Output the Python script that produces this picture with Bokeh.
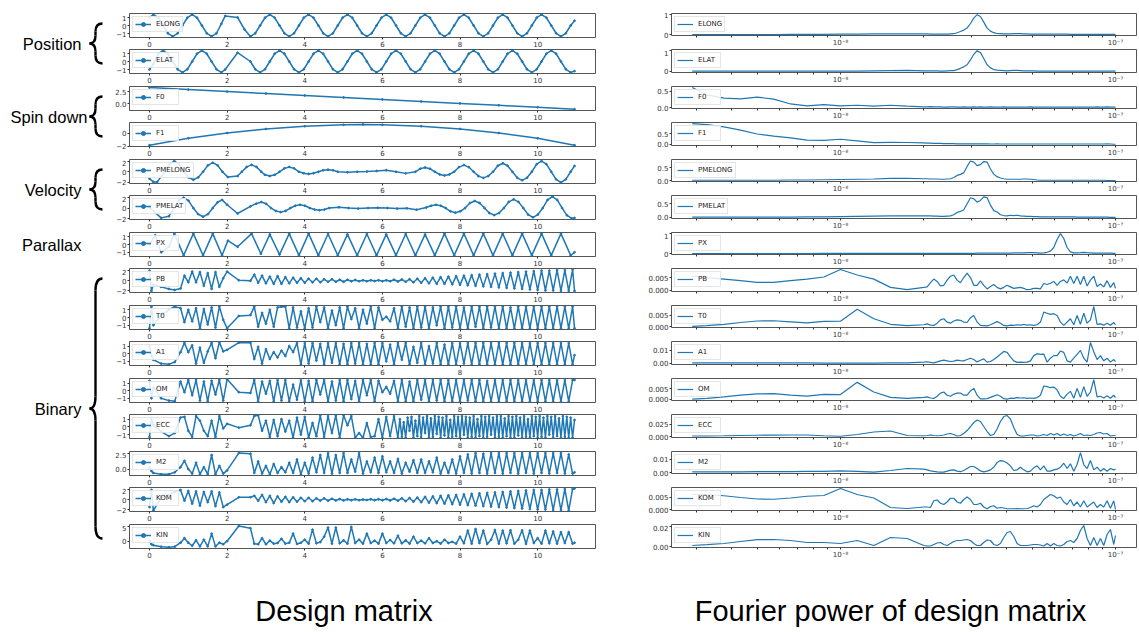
from bokeh.plotting import figure
from bokeh.layouts import column, row
from bokeh.models import Range1d, FixedTicker, CustomJSTickFormatter
from bokeh.core.properties import value
from bokeh.embed import file_html
from bokeh.resources import INLINE

# ======================= DATA =======================
PARAMS = ["ELONG", "ELAT", "F0", "F1", "PMELONG", "PMELAT", "PX",
          "PB", "T0", "A1", "OM", "ECC", "M2", "KOM", "KIN"]
GROUPS = [("Position", 0, 1, True), ("Spin down", 2, 3, True),
          ("Velocity", 4, 5, True), ("Parallax", 6, 6, False),
          ("Binary", 7, 14, True)]
TITLES = ["Design matrix", "Fourier power of design matrix"]
LEFT_XTICKS = [0, 2, 4, 6, 8, 10]

# --- design matrix columns (time in years) ---
elong_pts = [(0.0,1.0),(0.1,1.37),(0.225,0.97),(0.35,0.0),(0.475,-0.97),(0.6,-1.37),(0.725,-0.97),(0.85,0.0),(0.975,0.97),
 (1.1,1.37),(1.225,0.97),(1.35,0.0),(1.475,-0.97),(1.6,-1.37),(1.725,-0.97),(1.85,0.2),(1.95,1.2),(2.27,1.0),(2.45,-0.5),(2.6,-1.37),(2.725,-0.97),(2.85,0.0),(2.975,0.97),
 (3.1,1.37),(3.225,0.97),(3.35,0.0),(3.475,-0.97),(3.6,-1.37),(3.725,-0.97),(3.85,0.0),(3.975,0.97),
 (4.1,1.37),(4.225,0.97),(4.35,0.0),(4.475,-0.97),(4.6,-1.37),(4.725,-0.97),(4.85,0.0),(4.975,0.97),
 (5.1,1.37),(5.225,0.97),(5.35,0.0),(5.475,-0.97),(5.6,-1.37),(5.725,-0.97),(5.85,0.0),(5.975,0.97),
 (6.1,1.37),(6.225,0.97),(6.35,0.0),(6.475,-0.97),(6.6,-1.37),(6.725,-0.97),(6.85,0.0),(6.975,0.97),
 (7.1,1.37),(7.225,0.97),(7.35,0.0),(7.475,-0.97),(7.6,-1.37),(7.725,-0.97),(7.85,0.0),(7.975,0.97),
 (8.1,1.37),(8.225,0.97),(8.35,0.0),(8.475,-0.97),(8.6,-1.37),(8.725,-0.97),(8.85,0.0),(8.975,0.97),
 (9.1,1.37),(9.225,0.97),(9.35,0.0),(9.475,-0.97),(9.6,-1.37),(9.725,-0.97),(9.85,0.0),(9.975,0.97),
 (10.1,1.37),(10.225,0.97),(10.35,0.0),(10.475,-0.97),(10.6,-1.37),(10.725,-0.97),(10.85,0.0),(10.95,0.6)]

elat_pts = [(0.0,-1.0),(0.1,-0.3),(0.225,0.97),(0.35,1.37),(0.475,0.97),(0.6,0.0),(0.725,-0.97),(0.85,-1.37),(0.975,-0.97),
 (1.1,0.0),(1.225,0.97),(1.35,1.37),(1.475,0.97),(1.6,0.0),(1.725,-0.97),(1.85,-1.37),(1.95,-1.0),(2.27,1.1),(2.6,0.0),(2.725,-0.97),(2.85,-1.37),(2.975,-0.97),
 (3.1,0.0),(3.225,0.97),(3.35,1.37),(3.475,0.97),(3.6,0.0),(3.725,-0.97),(3.85,-1.37),(3.975,-0.97),
 (4.1,0.0),(4.225,0.97),(4.35,1.37),(4.475,0.97),(4.6,0.0),(4.725,-0.97),(4.85,-1.37),(4.975,-0.97),
 (5.1,0.0),(5.225,0.97),(5.35,1.37),(5.475,0.97),(5.6,0.0),(5.725,-0.97),(5.85,-1.37),(5.975,-0.97),
 (6.1,0.0),(6.225,0.97),(6.35,1.37),(6.475,0.97),(6.6,0.0),(6.725,-0.97),(6.85,-1.37),(6.975,-0.97),
 (7.1,0.0),(7.225,0.97),(7.35,1.37),(7.475,0.97),(7.6,0.0),(7.725,-0.97),(7.85,-1.37),(7.975,-0.97),
 (8.1,0.0),(8.225,0.97),(8.35,1.37),(8.475,0.97),(8.6,0.0),(8.725,-0.97),(8.85,-1.37),(8.975,-0.97),
 (9.1,0.0),(9.225,0.97),(9.35,1.37),(9.475,0.97),(9.6,0.0),(9.725,-0.97),(9.85,-1.37),(9.975,-0.97),
 (10.1,0.0),(10.225,0.97),(10.35,1.37),(10.475,0.97),(10.6,0.0),(10.725,-0.97),(10.85,-1.37),(10.95,-1.2)]

f0_pts = [(0,3.3),(1,2.9),(2,2.5),(3,2.1),(4,1.7),(5,1.3),(6,0.9),(7,0.5),(8,0.1),(9,-0.3),(10,-0.7),(10.95,-1.08)]
f1_pts = [(0,-1.85),(1,-0.8),(2,0.0),(3,0.62),(4,1.03),(5,1.25),(5.5,1.3),(6,1.25),(7,1.03),(8,0.62),(9,0.0),(10,-0.8),(10.95,-1.85)]

pmelong_pts = [(0,-1.3),(0.1,-1.9),(0.2,-1.9),(0.39,0),(0.515,1.42),(0.64,2.0),(0.765,1.42),(0.89,0),(1.005,-1.06),(1.13,-1.5),
 (1.255,-1.06),(1.38,0),(1.505,1.2),(1.63,1.7),(1.755,1.2),(1.88,0),(2.02,-1.0),(2.27,-0.8),(2.38,0),(2.505,0.92),(2.63,1.3),
 (2.755,0.92),(2.88,0),(2.975,-0.57),(3.1,-0.8),(3.225,-0.57),(3.35,0),(3.475,0.64),(3.6,0.9),(3.725,0.64),(3.85,0),(3.975,-0.28),
 (4.1,-0.4),(4.225,-0.28),(4.35,0),(4.475,0.28),(4.6,0.4),(4.725,0.28),(4.85,0),(5.1,-0.1),(5.35,0),(5.6,0.05),(5.85,0.15),
 (6.1,0.3),(6.35,0),(6.6,-0.3),(6.85,0),(6.975,0.57),(7.1,0.8),(7.225,0.57),(7.35,0),(7.475,-0.5),(7.6,-0.7),(7.725,-0.5),
 (7.85,0),(7.975,0.88),(8.1,1.25),(8.225,0.88),(8.35,0),(8.475,-0.82),(8.6,-1.15),(8.725,-0.82),(8.85,0),(8.975,1.13),(9.1,1.6),
 (9.225,1.13),(9.35,0),(9.475,-1.13),(9.6,-1.6),(9.725,-1.13),(9.85,0),(9.975,1.42),(10.1,2.0),(10.225,1.42),(10.35,0),
 (10.475,-1.42),(10.6,-2.0),(10.725,-1.42),(10.85,0),(10.95,1.1)]

pmelat_pts = [(0,0.1),(0.3,-1.8),(0.5,-1.5),(0.63,0.0),(0.755,1.35),(0.88,1.9),(1.005,1.35),(1.13,0),(1.255,-1.13),(1.38,-1.6),
 (1.505,-1.13),(1.63,0),(1.755,1.06),(1.87,1.5),(2.0,0.6),(2.27,-1.0),(2.6,0.3),(2.75,0.8),(2.88,1.1),(3.005,0.78),(3.13,0),
 (3.255,-0.53),(3.38,-0.75),(3.505,-0.53),(3.63,0),(3.755,0.42),(3.88,0.6),(4.005,0.42),(4.13,0),(4.255,-0.28),(4.38,-0.4),
 (4.505,-0.28),(4.63,0),(4.88,0.15),(5.13,0),(5.38,-0.1),(5.63,0),(5.88,0.05),(6.13,0),(6.38,-0.1),(6.63,-0.05),(6.88,-0.3),
 (7.13,0.1),(7.255,0.42),(7.38,0.6),(7.505,0.42),(7.63,0),(7.755,-0.6),(7.88,-0.85),(8.005,-0.6),(8.13,0),(8.255,0.92),(8.38,1.3),
 (8.505,0.92),(8.63,0),(8.755,-0.92),(8.88,-1.3),(9.005,-0.92),(9.13,0),(9.255,1.13),(9.38,1.6),(9.505,1.13),(9.63,0),(9.755,-1.2),
 (9.88,-1.7),(10.005,-1.2),(10.13,0),(10.255,1.48),(10.38,2.1),(10.505,1.48),(10.63,0),(10.755,-1.34),(10.88,-1.9),(10.95,-1.8)]

px_pts = [(0,0.0),(0.15,1.2),(0.3,-1.0),(0.5,-0.3),(0.64,1.4),(0.88,-1.4),(1.13,1.4),(1.38,-1.4),(1.63,1.4),(1.87,-1.4),
 (2.02,0.5),(2.27,-0.3),(2.63,1.4),(2.87,-1.2),(3.1,1.3),(3.35,-1.3),(3.6,1.4),(3.85,-1.4),(4.1,1.4),(4.35,-1.4),(4.6,1.35),
 (4.85,-1.4),(5.1,1.3),(5.35,-1.4),(5.6,1.35),(5.85,-1.4),(6.1,1.3),(6.35,-1.4),(6.6,1.35),(6.85,-1.4),(7.1,1.3),(7.35,-1.4),
 (7.6,1.4),(7.85,-1.4),(8.1,1.4),(8.35,-1.4),(8.6,1.4),(8.85,-1.4),(9.1,1.4),(9.35,-1.4),(9.6,1.4),(9.85,-1.4),(10.1,1.4),
 (10.35,-1.4),(10.6,1.4),(10.85,-1.4),(10.95,-1.0)]

t_bin = [0.0, 0.05, 0.1, 0.3, 0.5, 0.65, 0.8, 0.9, 1.0, 1.1, 1.2, 1.3, 1.4, 1.5, 1.6, 1.7, 1.8, 1.9, 2.0, 2.3, 2.6,
 2.7, 2.8, 2.9,
 3.0, 3.1, 3.2, 3.3, 3.4, 3.5, 3.6, 3.7, 3.8, 3.9,
 4.0, 4.1, 4.2, 4.3, 4.4, 4.5, 4.6, 4.7, 4.8, 4.9,
 5.0, 5.1, 5.2, 5.3, 5.4, 5.5, 5.6, 5.7, 5.8, 5.9,
 6.0, 6.1, 6.2, 6.3, 6.4, 6.5, 6.6, 6.7, 6.8, 6.9,
 7.0, 7.1, 7.2, 7.3, 7.4, 7.5, 7.6, 7.7, 7.8, 7.9,
 8.0, 8.1, 8.2, 8.3, 8.4, 8.5, 8.6, 8.7, 8.8, 8.9,
 9.0, 9.1, 9.2, 9.3, 9.4, 9.5, 9.6, 9.7, 9.8, 9.9,
 10.0, 10.1, 10.2, 10.3, 10.4, 10.5, 10.6, 10.7, 10.8, 10.9,
 10.95]

pb_y = [2.0, -2.0, -0.8, -1.2, -1.6, -1.8, -1.5, 1.0, -0.3, 1.8, -0.3, 1.7, -1.0, 1.5, -1.6, 1.7, -1.2, 0.5, 1.8, 0.1, 0.0,
 1.2, -0.4, 1.0,
 -0.5, 0.8, -0.6, 0.9, -0.6, 0.7, -0.5, 0.6, -0.4, 0.5,
 -0.4, 0.4, -0.3, 0.4, -0.3, 0.3, -0.2, 0.3, -0.2, 0.2,
 -0.2, 0.2, -0.1, 0.15, -0.1, 0.1, -0.1, 0.1, -0.05, 0.1,
 -0.1, 0.1, -0.1, 0.2, -0.15, 0.25, -0.2, 0.3, -0.3, 0.4,
 -0.4, 0.5, -0.5, 0.6, -0.6, 0.7, -0.6, 0.8, -0.7, 0.9,
 -0.8, 1.0, -0.9, 1.1, -1.0, 1.2, -1.1, 1.3, -1.2, 1.4,
 -1.3, 1.5, -1.4, 1.6, -1.5, 1.7, -1.6, 1.8, -1.7, 1.9,
 -1.8, 2.0, -1.9, 2.0, -1.9, 2.1, -2.0, 2.1, -2.0, 2.2,
 -2.0]

t0_y = [-1.4, 1.4, -1.0, 0.3, 1.0, 1.4, 1.2, -0.6, 1.0, -0.5, 1.2, -1.4, 1.1, -0.9, 1.3, -1.3, 1.4, -0.3, -1.4, 0.2, 0.3,
 1.4, -1.2, 0.6,
 -0.8, 1.0, -1.2, 1.3, 1.4, 1.4, -1.4, 1.3, -1.3, 0.8,
 -1.4, 1.2, -1.3, 1.4, -0.6, 1.3, -1.4, 0.9, -1.0, 1.3,
 -1.4, 1.4, -0.2, 1.2, -1.4, 1.0, -0.8, 1.4, -1.4, 1.3,
 -0.3, 0.1, -0.5, 1.2, -1.4, 1.4, -1.2, 1.3, -1.4, 1.4,
 -1.3, 1.4, -1.4, 1.3, -1.0, 1.4, -1.4, 1.4, -1.3, 1.4,
 -1.4, 1.3, -1.4, 1.4, -1.2, 1.4, -1.4, 1.4, -1.3, 1.4,
 -1.4, 1.4, -1.4, 1.3, -1.4, 1.4, -1.4, 1.4, -1.4, 1.4,
 -1.4, 1.4, -1.4, 1.4, -1.4, 1.4, -1.4, 1.4, -1.4, 1.4,
 -1.4]

a1_y = [1.0, -0.3, -0.8, -1.3, -1.4, -1.1, 0.2, 1.4, 0.2, 1.1, -1.3, 0.8, -1.2, 0.3, 1.4, -0.6, 1.5, 0.3, 0.5, 1.45, 1.45,
 -0.7, 0.9, -1.3,
 0.6, -0.7, 0.2, -0.5, 0.4, -0.3, 1.0, 0.2, 1.4, -1.4,
 1.4, -1.3, 1.4, -0.9, 1.3, -1.4, 1.4, -1.2, 1.4, -1.4,
 1.3, -1.4, 1.4, -1.3, 1.4, -1.4, 1.3, -1.4, 1.4, -1.4,
 1.4, -1.0, 1.2, -1.4, 1.4, -0.8, 1.4, -1.4, 0.9, -1.2,
 1.4, -1.4, 1.0, -1.3, 1.4, -1.4, 1.2, -1.4, 1.4, -1.4,
 1.4, -1.3, 1.4, -1.4, 1.4, -1.4, 1.4, -1.4, 1.4, -1.4,
 1.4, -1.4, 1.4, -1.4, 1.4, -1.4, 1.4, -1.4, 1.4, -1.4,
 1.4, -1.4, 1.4, -1.4, 1.4, -1.4, 1.4, -1.4, 1.4, -1.4,
 -0.2]

om_y = [1.3, -1.0, 0.4, -1.0, -1.3, -1.4, 1.2, -0.2, 1.4, -0.6, 1.4, -1.3, 1.2, -1.4, 1.3, -0.5, 1.4, -1.3, 1.5, -0.2, -0.3,
 1.4, -1.4, 1.2,
 -0.4, 1.3, -1.4, 1.4, -1.3, 1.4, -1.4, 0.8, -1.2, 1.4,
 -1.4, 1.3, -1.4, 1.4, -0.5, 1.4, -1.4, 1.2, -1.3, 1.4,
 -1.4, 1.4, -1.1, 1.3, -1.4, 1.4, -0.6, 1.4, -1.4, 1.3,
 -0.2, 0.5, -0.4, 1.3, -1.4, 1.4, -1.4, 1.2, -1.4, 1.4,
 -1.2, 1.4, -1.4, 1.4, -1.3, 1.4, -1.4, 1.4, -1.4, 1.4,
 -1.4, 1.4, -1.3, 1.4, -1.4, 1.4, -1.4, 1.3, -1.4, 1.4,
 -1.4, 1.4, -1.4, 1.4, -1.4, 1.4, -1.4, 1.4, -1.4, 1.4,
 -1.4, 1.4, -1.4, 1.4, -1.4, 1.4, -1.4, 1.4, -1.4, 1.4,
 1.4]

t_ecc = [0.0, 0.05, 0.1, 0.3, 0.5, 0.65, 0.8, 0.9, 1.0, 1.1, 1.2, 1.3, 1.4, 1.5, 1.6, 1.7, 1.8, 1.9, 2.0, 2.3, 2.6,
 2.7, 2.8, 2.9,
 3.0, 3.1, 3.2, 3.3, 3.4, 3.5, 3.6, 3.7, 3.8, 3.9,
 4.0, 4.1, 4.2, 4.3, 4.4, 4.5, 4.6, 4.7, 4.8, 4.9,
 5.0, 5.1, 5.2, 5.3, 5.4, 5.5, 5.6, 5.7, 5.8, 5.9,
 6.0, 6.1, 6.2, 6.3, 6.4,
 6.45, 6.5, 6.55, 6.6, 6.65, 6.7, 6.75, 6.8, 6.85, 6.9, 6.95,
 7.0, 7.05, 7.1, 7.15, 7.2, 7.25, 7.3, 7.35, 7.4, 7.45, 7.5, 7.55, 7.6, 7.65, 7.7, 7.75, 7.8, 7.85, 7.9, 7.95,
 8.0, 8.05, 8.1, 8.15, 8.2, 8.25, 8.3, 8.35, 8.4, 8.45, 8.5, 8.55, 8.6, 8.65, 8.7, 8.75, 8.8, 8.85, 8.9, 8.95,
 9.0, 9.05, 9.1, 9.15, 9.2, 9.25, 9.3, 9.35, 9.4, 9.45, 9.5, 9.55, 9.6, 9.65, 9.7, 9.75, 9.8, 9.85, 9.9, 9.95,
 10.0, 10.05, 10.1, 10.15, 10.2, 10.25, 10.3, 10.35, 10.4, 10.45, 10.5, 10.55, 10.6, 10.65, 10.7, 10.75, 10.8, 10.85, 10.9, 10.95]

ecc_y = [-1.3, 1.0, 0.2, -0.6, -1.2, -0.8, 1.2, 1.3, -0.5, -1.3, 1.4, 0.8, -0.5, -1.2, 0.8, -1.3, 1.4, -0.2, 0.4, -0.1, 0.2,
 1.4, 1.5, -0.5,
 0.8, -1.3, 0.9, -1.2, 1.0, -0.6, 0.8, -1.4, 1.2, -1.0,
 1.3, -1.4, 0.5, -1.2, 1.5, -1.3, 1.4, -0.8, 1.5, -1.4,
 1.5, 0.2, 1.4, -1.4, -0.8, -1.4, 0.5, -1.3, -1.2, 1.0,
 -1.4, 1.3, -1.2, 1.4, -1.4,
 1.0, -1.3, 0.6, -1.4, 1.2, -0.5, 1.3, -1.4, 0.8, -1.2, 1.4,
 -1.3, 1.2, -0.8, 1.4, -1.4, 1.1, -1.3, 1.4, -0.9, 1.3, -1.4, 1.2, -1.1, 1.4, -1.4, 0.9, -1.3, 1.4, -1.2, 1.3,
 -1.4, 1.4, -1.0, 1.3, -1.4, 1.2, -1.3, 1.4, -1.4, 1.0, -1.2, 1.4, -1.4, 1.3, -1.3, 1.4, -1.0, 1.2, -1.4, 1.4,
 -1.3, 1.4, -1.4, 1.1, -1.2, 1.4, -1.4, 1.3, -1.4, 1.4, -1.1, 1.2, -1.4, 1.4, -1.3, 1.0, -1.4, 1.4, -1.2, 1.3,
 -1.4, 1.4, -1.3, 1.2, -1.4, 1.4, -1.0, 1.3, -1.4, 1.4, -1.2, 1.1, -1.4, 1.4, -1.3, 1.3, -1.4, 1.2, -1.4, 0.9]

m2_y = [0.2, -0.3, -0.6, -0.8, -0.8, -0.5, 0.3, 1.3, 0.0, -0.7, 1.0, -0.8, 0.3, -0.8, 2.2, -0.8, 0.5, -0.7, -0.2, 2.5, 2.4,
 -0.6, 1.2, -0.7,
 0.5, -0.8, 0.8, -0.6, 0.3, -0.5, 1.0, -0.6, 1.5, -0.8,
 1.0, -0.7, 1.8, -0.5, 2.2, -0.6, 2.5, -0.7, 2.2, -0.6,
 2.5, -0.6, 1.5, -0.4, 2.5, -0.7, 1.2, -0.5, 1.8, -0.6,
 2.0, -0.5, 1.2, -0.6, 1.6, -0.7, 1.0, -0.4, 1.4, -0.6,
 1.5, -0.6, 1.2, -0.5, 1.8, -0.7, 1.0, -0.6, 1.5, -0.7,
 2.0, -0.6, 2.3, -0.7, 2.5, -0.6, 2.4, -0.7, 2.5, -0.6,
 2.5, -0.7, 2.5, -0.6, 2.5, -0.7, 2.5, -0.6, 2.5, -0.7,
 2.5, -0.6, 2.5, -0.7, 2.5, -0.6, 2.5, -0.7, 2.3, -0.7,
 -0.5]

kom_y = [-1.5, 2.0, -2.2, 0.5, 1.0, 1.6, 2.0, -0.2, 1.8, -0.8, 1.7, -1.2, 1.6, -0.5, 1.7, -1.3, 1.5, -1.5, -1.0, 0.5, 0.5,
 0.8, -0.2, 1.0,
 -0.5, 0.8, -0.7, 0.7, -0.4, 0.6, -0.5, 0.5, -0.4, 0.4,
 -0.3, 0.4, -0.3, 0.3, -0.2, 0.3, -0.2, 0.2, -0.15, 0.15,
 -0.15, 0.1, -0.1, 0.1, -0.1, 0.05, -0.05, 0.1, -0.1, 0.1,
 -0.1, 0.15, -0.15, 0.2, -0.2, 0.3, -0.3, 0.35, -0.4, 0.45,
 -0.5, 0.6, -0.6, 0.7, -0.7, 0.8, -0.8, 0.9, -0.9, 1.0,
 -1.0, 1.1, -1.1, 1.2, -1.2, 1.3, -1.3, 1.4, -1.4, 1.5,
 -1.5, 1.6, -1.6, 1.7, -1.7, 1.8, -1.8, 1.9, -1.9, 2.0,
 -2.0, 2.0, -2.0, 2.1, -2.1, 2.1, -2.1, 2.2, -2.2, 2.2,
 2.3]

kin_y = [0.0, -1.0, -1.3, -1.8, -2.0, -1.8, -0.5, 1.0, -0.5, -1.5, 0.3, -1.7, 0.5, -1.7, 2.5, -1.7, -0.5, -1.0, 0.0, 5.0, 4.3,
 -0.8, -1.0, 1.0,
 -1.0, 0.2, -0.8, -0.6, 0.8, -0.8, -0.5, 2.5, -0.9, -0.5,
 0.5, -0.8, 3.8, -0.7, -0.3, 1.5, 4.5, -0.8, 4.5, -0.7,
 0.3, -0.8, 4.7, -0.6, 0.5, -0.8, 2.5, -0.6, 0.2, -0.8,
 2.5, -0.6, 0.4, -0.7, 1.8, -0.7, 0.3, -0.8, 1.5, -0.6,
 0.2, -0.7, 1.0, -0.6, 0.0, -0.8, 0.5, -0.6, -0.2, -0.8,
 1.5, -0.7, 3.5, -0.8, 4.0, -0.6, 3.5, -0.9, 0.5, 3.7,
 -0.8, 3.5, -0.7, 3.6, -0.8, 0.5, 3.6, -0.9, 3.5, -0.6,
 1.0, -0.8, 3.5, -0.7, 3.2, -0.8, 3.0, -0.6, 3.0, -0.8,
 -0.5]

# --- Fourier power (frequency in units of 1e-9 Hz) ---
freq_e9 = [2.89, 3.27, 3.77, 4.33, 4.98, 5.72, 6.58, 7.56, 8.70, 10.0, 11.5, 13.22, 15.2, 17.48,
 20.09, 20.66, 21.24, 21.84, 22.46, 23.10, 23.75, 24.42, 25.11, 25.82,
 26.55, 27.30, 28.07, 28.87, 29.69, 30.53, 31.39, 32.28, 33.19, 34.13,
 35.10, 36.09, 37.11, 38.16, 39.24, 40.35, 41.49, 42.67, 43.87, 45.12,
 46.39, 47.71, 49.06, 50.44, 51.87, 53.34, 54.85, 56.40, 58.00, 59.64,
 61.33, 63.06, 64.85, 66.68, 68.57, 70.51, 72.51, 74.56, 76.67, 78.84,
 81.07, 83.37, 85.73, 88.15, 90.65, 93.21, 95.85, 98.56, 100.0]

pow_elong = [0.0, 0.0, 0.0, 0.0, 0.0, 0.0, 0.01, 0.01, 0.01, 0.02, 0.02, 0.03, 0.03, 0.03,
 0.03, 0.03, 0.02, 0.02, 0.02, 0.02, 0.02, 0.02, 0.03, 0.04,
 0.09, 0.15, 0.22, 0.32, 0.55, 0.82, 0.99, 0.9, 0.62, 0.32,
 0.17, 0.09, 0.05, 0.04, 0.03, 0.03, 0.03, 0.04, 0.05, 0.04,
 0.03, 0.03, 0.02, 0.02, 0.02, 0.02, 0.02, 0.02, 0.02, 0.02,
 0.02, 0.02, 0.02, 0.02, 0.01, 0.01, 0.01, 0.01, 0.01, 0.01,
 0.01, 0.01, 0.01, 0.01, 0.01, 0.01, 0.01, 0.01, 0.01]
pow_elat = [0.02, 0.02, 0.02, 0.02, 0.02, 0.02, 0.02, 0.02, 0.02, 0.02, 0.02, 0.03, 0.04, 0.05,
 0.03, 0.03, 0.03, 0.03, 0.03, 0.02, 0.02, 0.03, 0.04, 0.04,
 0.09, 0.15, 0.22, 0.32, 0.55, 0.82, 0.99, 0.9, 0.62, 0.32,
 0.17, 0.09, 0.06, 0.05, 0.04, 0.03, 0.04, 0.05, 0.05, 0.04,
 0.03, 0.03, 0.03, 0.03, 0.02, 0.02, 0.02, 0.02, 0.02, 0.02,
 0.02, 0.02, 0.02, 0.02, 0.02, 0.02, 0.02, 0.02, 0.02, 0.02,
 0.02, 0.02, 0.02, 0.02, 0.02, 0.02, 0.02, 0.02, 0.02]
pow_f0 = [0.62, 0.39, 0.29, 0.27, 0.32, 0.26, 0.11, 0.05, 0.09, 0.05, 0.07, 0.04, 0.07, 0.04,
 0.02, 0.02, 0.03, 0.02, 0.02, 0.02, 0.01, 0.01, 0.02, 0.02,
 0.01, 0.01, 0.02, 0.01, 0.01, 0.02, 0.01, 0.02, 0.01, 0.01,
 0.02, 0.01, 0.01, 0.01, 0.02, 0.01, 0.01, 0.01, 0.01, 0.01,
 0.01, 0.01, 0.02, 0.01, 0.01, 0.01, 0.01, 0.01, 0.01, 0.01,
 0.01, 0.01, 0.01, 0.01, 0.01, 0.01, 0.01, 0.01, 0.01, 0.01,
 0.01, 0.01, 0.02, 0.01, 0.01, 0.02, 0.01, 0.01, 0.01]
pow_f1 = [0.96, 0.91, 0.81, 0.66, 0.48, 0.38, 0.30, 0.20, 0.19, 0.24, 0.16, 0.08, 0.10, 0.09,
 0.07, 0.06, 0.06, 0.05, 0.05, 0.05, 0.04, 0.04, 0.04, 0.04,
 0.03, 0.03, 0.03, 0.03, 0.03, 0.03, 0.03, 0.03, 0.03, 0.03,
 0.02, 0.02, 0.03, 0.02, 0.02, 0.02, 0.02, 0.02, 0.02, 0.02,
 0.02, 0.02, 0.02, 0.02, 0.02, 0.02, 0.02, 0.02, 0.02, 0.02,
 0.02, 0.02, 0.02, 0.02, 0.02, 0.02, 0.02, 0.02, 0.02, 0.02,
 0.02, 0.02, 0.02, 0.02, 0.02, 0.03, 0.02, 0.01, 0.01]
pow_pmelong = [0.01, 0.01, 0.01, 0.01, 0.01, 0.01, 0.02, 0.02, 0.03, 0.04, 0.05, 0.06, 0.08, 0.08,
 0.07, 0.07, 0.06, 0.06, 0.06, 0.05, 0.05, 0.06, 0.07, 0.12,
 0.2, 0.24, 0.3, 0.55, 0.76, 0.72, 0.58, 0.62, 0.74, 0.72,
 0.45, 0.25, 0.15, 0.1, 0.07, 0.05, 0.05, 0.05, 0.05, 0.05,
 0.06, 0.06, 0.05, 0.04, 0.02, 0.01, 0.01, 0.01, 0.01, 0.01,
 0.01, 0.01, 0.01, 0.01, 0.01, 0.01, 0.01, 0.01, 0.01, 0.01,
 0.01, 0.01, 0.01, 0.01, 0.01, 0.0, 0.0, 0.0, 0.0]
pow_pmelat = [0.01, 0.01, 0.01, 0.01, 0.01, 0.01, 0.01, 0.02, 0.02, 0.03, 0.04, 0.05, 0.06, 0.06,
 0.06, 0.06, 0.06, 0.05, 0.05, 0.04, 0.04, 0.05, 0.06, 0.1,
 0.18, 0.22, 0.28, 0.5, 0.72, 0.68, 0.56, 0.62, 0.75, 0.72,
 0.45, 0.25, 0.2, 0.1, 0.07, 0.06, 0.08, 0.07, 0.08, 0.06,
 0.05, 0.04, 0.04, 0.03, 0.03, 0.02, 0.02, 0.02, 0.02, 0.02,
 0.02, 0.02, 0.02, 0.02, 0.02, 0.02, 0.01, 0.01, 0.01, 0.01,
 0.01, 0.01, 0.01, 0.01, 0.01, 0.01, 0.0, 0.0, 0.0]
pow_px = [0.0, 0.0, 0.0, 0.0, 0.0, 0.0, 0.0, 0.0, 0.01, 0.01, 0.01, 0.01, 0.01, 0.01,
 0.01, 0.01, 0.01, 0.01, 0.01, 0.01, 0.01, 0.01, 0.01, 0.01,
 0.01, 0.01, 0.01, 0.01, 0.01, 0.01, 0.02, 0.02, 0.02, 0.02,
 0.02, 0.02, 0.02, 0.02, 0.02, 0.02, 0.02, 0.03, 0.03, 0.03,
 0.03, 0.04, 0.05, 0.04, 0.03, 0.02, 0.03, 0.06, 0.12, 0.3,
 0.7, 1.0, 0.75, 0.3, 0.08, 0.03, 0.03, 0.04, 0.06, 0.04,
 0.03, 0.02, 0.02, 0.02, 0.02, 0.02, 0.02, 0.01, 0.01]
pow_pb = [0.0055, 0.005, 0.0044, 0.0038, 0.0031, 0.0031, 0.0038, 0.0044, 0.0052, 0.0081, 0.006, 0.0044, 0.0012, 0.0003,
 0.0012, 0.0014, 0.003, 0.0044, 0.0035, 0.0018, 0.002, 0.004, 0.0055, 0.006,
 0.004, 0.003, 0.005, 0.0067, 0.005, 0.002, 0.002, 0.0037, 0.002, 0.0006,
 0.0015, 0.0023, 0.0012, 0.0006, 0.0012, 0.002, 0.0014, 0.0008, 0.001, 0.0012,
 0.0008, 0.0003, 0.0004, 0.0008, 0.0008, 0.0006, 0.0027, 0.0023, 0.0028, 0.0035,
 0.002, 0.0035, 0.0041, 0.0029, 0.0055, 0.0027, 0.0055, 0.0023, 0.0055, 0.0017,
 0.004, 0.0055, 0.0015, 0.0025, 0.0014, 0.0038, 0.0012, 0.003, 0.0008]
pow_t0 = [0.0001, 0.0004, 0.001, 0.0018, 0.0025, 0.0026, 0.0021, 0.0016, 0.0023, 0.0024, 0.0078, 0.0035, 0.001, 0.0004,
 0.0008, 0.0012, 0.0006, 0.0005, 0.0015, 0.003, 0.0035, 0.002, 0.0015, 0.0025,
 0.003, 0.0028, 0.002, 0.0018, 0.004, 0.005, 0.002, 0.0005, 0.0004, 0.0003,
 0.0008, 0.0015, 0.0022, 0.0015, 0.0005, 0.0003, 0.0006, 0.0005, 0.0008, 0.0006,
 0.0009, 0.0006, 0.0008, 0.0005, 0.0008, 0.002, 0.0065, 0.006, 0.0055, 0.0058,
 0.005, 0.002, 0.0005, 0.002, 0.0035, 0.0008, 0.005, 0.001, 0.006, 0.0015,
 0.003, 0.009, 0.001, 0.0012, 0.0006, 0.0015, 0.0006, 0.0018, 0.0008]
pow_a1 = [0.0005, 0.0005, 0.0005, 0.0005, 0.0005, 0.0005, 0.0005, 0.0004, 0.0003, 0.0003, 0.0002, 0.0003, 0.0004, 0.0005,
 0.001, 0.0013, 0.0008, 0.0005, 0.0012, 0.002, 0.0025, 0.002, 0.0015, 0.0018,
 0.0025, 0.0022, 0.002, 0.003, 0.004, 0.003, 0.0012, 0.0025, 0.0035, 0.001,
 0.0015, 0.003, 0.005, 0.007, 0.0092, 0.0085, 0.005, 0.002, 0.0008, 0.001,
 0.0008, 0.001, 0.002, 0.006, 0.0075, 0.007, 0.0072, 0.001, 0.004, 0.006,
 0.006, 0.0095, 0.0085, 0.002, 0.001, 0.004, 0.007, 0.01, 0.004, 0.001,
 0.016, 0.009, 0.003, 0.006, 0.002, 0.004, 0.001, 0.003, 0.0015]
pow_om = [0.0002, 0.0005, 0.0012, 0.002, 0.0026, 0.0027, 0.002, 0.0016, 0.0024, 0.0023, 0.008, 0.0035, 0.001, 0.0005,
 0.001, 0.0012, 0.0007, 0.0005, 0.0015, 0.003, 0.0035, 0.002, 0.0015, 0.0025,
 0.003, 0.003, 0.002, 0.002, 0.004, 0.0052, 0.002, 0.0003, 0.0003, 0.0004,
 0.001, 0.0016, 0.0022, 0.0015, 0.0004, 0.0002, 0.0006, 0.0005, 0.0009, 0.0007,
 0.0008, 0.0005, 0.0007, 0.0005, 0.0009, 0.002, 0.0063, 0.006, 0.0055, 0.0058,
 0.0045, 0.0015, 0.0005, 0.0025, 0.0038, 0.0006, 0.0052, 0.001, 0.006, 0.0015,
 0.0035, 0.0093, 0.0012, 0.0015, 0.0007, 0.0017, 0.0006, 0.002, 0.0009]
pow_ecc = [0.001, 0.001, 0.0015, 0.002, 0.0025, 0.0028, 0.003, 0.003, 0.0015, 0.0005, 0.004, 0.009, 0.011, 0.002,
 0.0015, 0.002, 0.003, 0.002, 0.0015, 0.002, 0.003, 0.005, 0.006, 0.004,
 0.001, 0.002, 0.006, 0.012, 0.02, 0.028, 0.033, 0.03, 0.02, 0.01,
 0.002, 0.004, 0.015, 0.03, 0.04, 0.042, 0.035, 0.018, 0.004, 0.001,
 0.001, 0.002, 0.003, 0.003, 0.001, 0.002, 0.004, 0.002, 0.006, 0.003,
 0.006, 0.002, 0.005, 0.002, 0.004, 0.001, 0.003, 0.006, 0.002, 0.003,
 0.002, 0.004, 0.007, 0.008, 0.005, 0.006, 0.001, 0.002, 0.002]
pow_m2 = [0.0005, 0.0005, 0.0005, 0.0005, 0.0006, 0.0007, 0.0007, 0.0008, 0.0008, 0.0012, 0.0008, 0.0003, 0.0015, 0.003,
 0.0025, 0.002, 0.0012, 0.0008, 0.0005, 0.0003, 0.0003, 0.001, 0.0018, 0.002,
 0.001, 0.0006, 0.0015, 0.003, 0.0045, 0.0045, 0.003, 0.0012, 0.0005, 0.001,
 0.002, 0.004, 0.0075, 0.009, 0.0085, 0.0072, 0.005, 0.0015, 0.002, 0.004,
 0.002, 0.0005, 0.001, 0.0035, 0.005, 0.002, 0.005, 0.001, 0.001, 0.002,
 0.0025, 0.004, 0.007, 0.003, 0.0065, 0.001, 0.006, 0.015, 0.006, 0.003,
 0.009, 0.002, 0.004, 0.001, 0.003, 0.001, 0.003, 0.002, 0.0025]
pow_kom = [0.006, 0.0059, 0.0055, 0.0048, 0.0042, 0.0041, 0.0046, 0.0053, 0.0056, 0.0084, 0.006, 0.0046, 0.0008, 0.0004,
 0.001, 0.001, 0.0008, 0.0035, 0.0038, 0.0025, 0.002, 0.003, 0.0045, 0.0045,
 0.003, 0.0025, 0.004, 0.005, 0.004, 0.002, 0.002, 0.0025, 0.001, 0.0003,
 0.0012, 0.0015, 0.0005, 0.0008, 0.0006, 0.0003, 0.0003, 0.0003, 0.0004, 0.0003,
 0.0003, 0.0004, 0.0008, 0.0015, 0.001, 0.002, 0.004, 0.005, 0.006, 0.0055,
 0.0045, 0.005, 0.003, 0.002, 0.004, 0.0015, 0.003, 0.001, 0.0035, 0.001,
 0.002, 0.003, 0.0008, 0.002, 0.001, 0.0035, 0.0005, 0.0035, 0.0]
pow_kin = [0.001, 0.0018, 0.003, 0.005, 0.0068, 0.007, 0.006, 0.004, 0.004, 0.003, 0.006, 0.001, 0.009, 0.008,
 0.001, 0.0007, 0.0005, 0.002, 0.0035, 0.004, 0.002, 0.001, 0.003, 0.005,
 0.006, 0.006, 0.0065, 0.007, 0.006, 0.003, 0.001, 0.001, 0.004, 0.0065,
 0.006, 0.002, 0.001, 0.003, 0.009, 0.014, 0.015, 0.01, 0.003, 0.001,
 0.001, 0.001, 0.0015, 0.002, 0.002, 0.0015, 0.0005, 0.003, 0.0005, 0.003,
 0.001, 0.0005, 0.002, 0.005, 0.006, 0.004, 0.008, 0.016, 0.021, 0.008,
 0.001, 0.009, 0.001, 0.008, 0.001, 0.012, 0.017, 0.002, 0.011]

# axis settings per panel: (range, ticks, labels)
LEFT_Y = {
    "ELONG": ((-1.5, 1.5), [-1, 0, 1], ["\u22121", "0", "1"]),
    "ELAT": ((-1.5, 1.5), [-1, 0, 1], ["\u22121", "0", "1"]),
    "F0": ((-1.34, 3.52), [0, 2.5], ["0.0", "2.5"]),
    "F1": ((-2.05, 1.6), [-2, 0], ["\u22122", "0"]),
    "PMELONG": ((-2.2, 2.3), [-2, 0, 2], ["\u22122", "0", "2"]),
    "PMELAT": ((-2.1, 2.3), [-2, 0, 2], ["\u22122", "0", "2"]),
    "PX": ((-1.55, 1.55), [-1, 0, 1], ["\u22121", "0", "1"]),
    "PB": ((-2.3, 2.4), [-2, 0, 2], ["\u22122", "0", "2"]),
    "T0": ((-1.55, 1.55), [-1, 0, 1], ["\u22121", "0", "1"]),
    "A1": ((-1.55, 1.6), [-1, 0, 1], ["\u22121", "0", "1"]),
    "OM": ((-1.55, 1.6), [-1, 0, 1], ["\u22121", "0", "1"]),
    "ECC": ((-1.5, 1.6), [-1, 0, 1], ["\u22121", "0", "1"]),
    "M2": ((-1.0, 2.75), [0, 2.5], ["0.0", "2.5"]),
    "KOM": ((-2.4, 2.5), [-2, 0, 2], ["\u22122", "0", "2"]),
    "KIN": ((-2.4, 5.5), [0, 5], ["0", "5"]),
}
RIGHT_Y = {
    "ELONG": ((-0.05, 1.05), [0, 1], ["0", "1"]),
    "ELAT": ((-0.05, 1.05), [0, 1], ["0", "1"]),
    "F0": ((-0.031, 0.651), [0, 0.5], ["0.0", "0.5"]),
    "F1": ((-0.048, 1.008), [0, 0.5], ["0.0", "0.5"]),
    "PMELONG": ((-0.038, 0.82), [0, 0.5], ["0.0", "0.5"]),
    "PMELAT": ((-0.038, 0.8), [0, 0.5], ["0.0", "0.5"]),
    "PX": ((-0.05, 1.05), [0, 1], ["0", "1"]),
    "PB": ((-0.0004, 0.0085), [0, 0.005], ["0.000", "0.005"]),
    "T0": ((-0.00045, 0.0095), [0, 0.005], ["0.000", "0.005"]),
    "A1": ((-0.0008, 0.0168), [0, 0.01], ["0.00", "0.01"]),
    "OM": ((-0.00047, 0.0098), [0, 0.005], ["0.000", "0.005"]),
    "ECC": ((-0.002, 0.0441), [0, 0.025], ["0.000", "0.025"]),
    "M2": ((-0.00075, 0.0158), [0, 0.01], ["0.00", "0.01"]),
    "KOM": ((-0.0004, 0.0088), [0, 0.005], ["0.000", "0.005"]),
    "KIN": ((-0.001, 0.022), [0, 0.02], ["0.00", "0.02"]),
}

def split(pts):
    return [p[0] for p in pts], [p[1] for p in pts]

LEFT_DATA = {
    "ELONG": split(elong_pts), "ELAT": split(elat_pts), "F0": split(f0_pts),
    "F1": split(f1_pts), "PMELONG": split(pmelong_pts), "PMELAT": split(pmelat_pts),
    "PX": split(px_pts), "PB": (t_bin, pb_y), "T0": (t_bin, t0_y), "A1": (t_bin, a1_y),
    "OM": (t_bin, om_y), "ECC": (t_ecc, ecc_y), "M2": (t_bin, m2_y),
    "KOM": (t_bin, kom_y), "KIN": (t_bin, kin_y),
}
RIGHT_DATA = {
    "ELONG": pow_elong, "ELAT": pow_elat, "F0": pow_f0, "F1": pow_f1,
    "PMELONG": pow_pmelong, "PMELAT": pow_pmelat, "PX": pow_px, "PB": pow_pb,
    "T0": pow_t0, "A1": pow_a1, "OM": pow_om, "ECC": pow_ecc, "M2": pow_m2,
    "KOM": pow_kom, "KIN": pow_kin,
}

# ======================= LAYOUT / STYLE =======================
BLUE = "#1f77b4"
TICK_FONT = "DejaVu Sans"
PAGE_TOP = 0
FRAME_TOPS = [13, 49, 86, 122, 159, 195, 232, 268, 305, 341, 378, 414, 451, 487, 524]
FRAME_H = 24
LAST_AXIS = 13
W_LABEL, W_LEFT, W_RIGHT = 107, 498, 532
LEFT_MB = (22, 10)      # min border left/right of left panels
RIGHT_MB = (66, 1)
LEFT_XR = (-0.515, 11.49)
RIGHT_XR = (10 ** -8.6145, 10 ** -6.9236)
MINOR_LOG = [3e-9, 4e-9, 5e-9, 6e-9, 7e-9, 8e-9, 9e-9,
             2e-8, 3e-8, 4e-8, 5e-8, 6e-8, 7e-8, 8e-8, 9e-8]


def row_geom(i):
    top = PAGE_TOP if i == 0 else FRAME_TOPS[i]
    bot = FRAME_TOPS[i + 1] if i < len(FRAME_TOPS) - 1 else FRAME_TOPS[i] + FRAME_H + LAST_AXIS
    h = bot - top
    mbt = FRAME_TOPS[i] - top
    mbb = h - mbt - FRAME_H
    return h, mbt, mbb


def style_axis(ax):
    ax.axis_line_color = None
    ax.major_tick_line_color = "#333333"
    ax.major_tick_line_width = 1
    ax.major_tick_out = 2
    ax.major_tick_in = 0
    ax.minor_tick_line_color = None
    ax.major_label_text_font = TICK_FONT
    ax.major_label_text_font_size = "7px"
    ax.major_label_text_color = "#333333"
    ax.major_label_standoff = 1


def style_legend(p):
    leg = p.legend[0]
    leg.location = "top_left"
    leg.margin = 3
    leg.padding = 2
    leg.spacing = 0
    leg.glyph_width = 16
    leg.glyph_height = 10
    leg.label_height = 10
    leg.label_standoff = 5
    leg.label_text_font = TICK_FONT
    leg.label_text_font_size = "7px"
    leg.label_text_color = "#222222"
    leg.border_line_color = "#cccccc"
    leg.border_line_width = 1
    leg.background_fill_alpha = 0.85


def base_fig(w, h, mbl, mbr, mbt, mbb, xr, yr, xtype="linear"):
    p = figure(width=w, height=h, x_range=Range1d(*xr), y_range=Range1d(*yr),
               x_axis_type=xtype, toolbar_location=None, output_backend="svg",
               min_border_left=mbl, min_border_right=mbr,
               min_border_top=mbt, min_border_bottom=mbb)
    p.grid.visible = False
    p.outline_line_color = "#555555"
    p.outline_line_width = 1
    p.background_fill_color = "white"
    p.border_fill_color = "white"
    style_axis(p.xaxis[0])
    style_axis(p.yaxis[0])
    return p


left_figs, right_figs = [], []
for i, name in enumerate(PARAMS):
    h, mbt, mbb = row_geom(i)
    # ---- design matrix panel ----
    yr, yt, yl = LEFT_Y[name]
    pl = base_fig(W_LEFT, h, LEFT_MB[0], LEFT_MB[1], mbt, mbb, LEFT_XR, yr)
    xs, ys = LEFT_DATA[name]
    n = min(len(xs), len(ys))
    pl.line(xs[:n], ys[:n], line_color=BLUE, line_width=1.5, legend_label=name)
    pl.scatter(xs[:n], ys[:n], size=1.8, color=BLUE, legend_label=name)
    pl.xaxis.ticker = FixedTicker(ticks=LEFT_XTICKS)
    pl.yaxis.ticker = FixedTicker(ticks=yt)
    pl.yaxis.major_label_overrides = dict(zip(yt, yl))
    style_legend(pl)
    left_figs.append(pl)

    # ---- Fourier power panel ----
    yr, yt, yl = RIGHT_Y[name]
    pr = base_fig(W_RIGHT, h, RIGHT_MB[0], RIGHT_MB[1], mbt, mbb, RIGHT_XR, yr, xtype="log")
    ps = RIGHT_DATA[name]
    n = min(len(freq_e9), len(ps))
    pr.line([f * 1e-9 for f in freq_e9[:n]], ps[:n], line_color=BLUE, line_width=1.2, legend_label=name)
    pr.xaxis.ticker = FixedTicker(ticks=[1e-8, 1e-7], minor_ticks=MINOR_LOG)
    pr.xaxis.formatter = CustomJSTickFormatter(
        code="return tick < 3e-8 ? '10\u207b\u2078' : '10\u207b\u2077';")
    pr.xaxis.minor_tick_line_color = "#333333"
    pr.xaxis.minor_tick_out = 2
    pr.xaxis.minor_tick_in = 0
    pr.yaxis.ticker = FixedTicker(ticks=yt)
    pr.yaxis.major_label_overrides = dict(zip(yt, yl))
    style_legend(pr)
    right_figs.append(pr)

# ---- group labels with braces ----
total_h = sum(row_geom(i)[0] for i in range(len(PARAMS)))
page_bottom = PAGE_TOP + total_h
lab = figure(width=W_LABEL, height=total_h, x_range=Range1d(0, W_LABEL),
             y_range=Range1d(page_bottom, PAGE_TOP), toolbar_location=None,
             output_backend="svg", min_border=0)
lab.axis.visible = False
lab.grid.visible = False
lab.outline_line_color = None

LABEL_RIGHTS = [81, 87, 81, 81, 81]
BRACE_TIP, BRACE_BODY, BRACE_END = 89, 95, 102
tx, ty, tt = [], [], []
qx0, qy0, qx1, qy1, qcx, qcy = [], [], [], [], [], []
sx0, sy0, sx1, sy1 = [], [], [], []
for (text, first, last, brace), xr_ in zip(GROUPS, LABEL_RIGHTS):
    y_top = FRAME_TOPS[first]
    y_bot = FRAME_TOPS[last] + FRAME_H
    ym = (y_top + y_bot) / 2
    tx.append(xr_)
    ty.append(ym)
    tt.append(text)
    if brace:
        b0, b1 = y_top + 10, y_bot - 10
        d = 8 if (b1 - b0) < 100 else 12
        qx0 += [BRACE_END, BRACE_BODY, BRACE_TIP, BRACE_BODY]
        qy0 += [b0, ym - d, ym, b1 - d]
        qx1 += [BRACE_BODY, BRACE_TIP, BRACE_BODY, BRACE_END]
        qy1 += [b0 + d, ym, ym + d, b1]
        qcx += [BRACE_BODY, BRACE_BODY, BRACE_BODY, BRACE_BODY]
        qcy += [b0, ym, ym, b1]
        sx0 += [BRACE_BODY, BRACE_BODY]
        sy0 += [b0 + d, ym + d]
        sx1 += [BRACE_BODY, BRACE_BODY]
        sy1 += [ym - d, b1 - d]

lab.text(x=tx, y=ty, text=tt, text_align="right", text_baseline="middle",
         text_font=value("Liberation Sans"), text_font_size="16.5px", text_color="black")
lab.quadratic(x0=qx0, y0=qy0, x1=qx1, y1=qy1, cx=qcx, cy=qcy,
              line_color="black", line_width=2.4)
lab.segment(x0=sx0, y0=sy0, x1=sx1, y1=sy1, line_color="black", line_width=2.4)

# ---- bottom titles ----
W_TOTAL = W_LABEL + W_LEFT + W_RIGHT
TITLE_H = 70
TITLE_X = [343.5, 890]
TITLE_MID = 610
tf = figure(width=W_TOTAL, height=TITLE_H, x_range=Range1d(0, W_TOTAL),
            y_range=Range1d(page_bottom + TITLE_H, page_bottom), toolbar_location=None,
            output_backend="svg", min_border=0)
tf.axis.visible = False
tf.grid.visible = False
tf.outline_line_color = None
tf.text(x=TITLE_X, y=[TITLE_MID] * len(TITLES), text=TITLES, text_align="center",
        text_baseline="middle", text_font=value("Liberation Sans"),
        text_font_size="29px", text_color="black")

layout = column(row(lab, column(*left_figs), column(*right_figs)), tf)

with open("out.html", "w", encoding="utf-8") as fh:
    fh.write(file_html(layout, INLINE))
